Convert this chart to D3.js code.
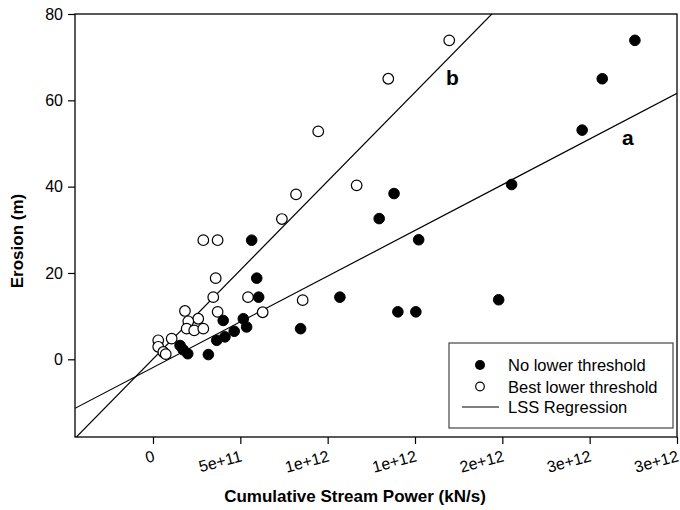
<!DOCTYPE html>
<html>
<head>
<meta charset="utf-8">
<script src="https://cdn.jsdelivr.net/npm/d3@7"></script>
<style>
  body { margin: 0; background: #fff; }
  svg { display: block; font-family: "Liberation Sans", Arial, sans-serif; }
</style>
</head>
<body>
<svg id="chart" width="680" height="510"></svg>
<script>
// ---- data (x in kN/s cumulative stream power, y erosion in m) ----
const noThresholdX = [2.759e12, 2.572e12, 2.457e12, 2.053e12, 1.380e12, 1.295e12, 1.521e12, 1.402e12, 1.505e12, 1.979e12,
                      1.070e12, 0.845e12, 0.565e12, 0.594e12, 0.605e12, 0.402e12, 0.517e12, 0.536e12, 0.465e12, 0.412e12,
                      0.365e12, 0.155e12, 0.173e12, 0.199e12, 0.317e12];
const noThresholdY = [73.9, 65.0, 53.1, 40.5, 38.4, 32.6, 27.7, 11.0, 11.0, 13.8,
                      14.4, 7.1, 27.6, 18.8, 14.4, 9.0, 9.4, 7.5, 6.5, 5.2,
                      4.4, 3.2, 2.2, 1.3, 1.1];
const bestThresholdX = [1.696e12, 1.347e12, 0.946e12, 1.166e12, 0.819e12, 0.738e12, 0.288e12, 0.370e12, 0.359e12, 0.345e12,
                        0.544e12, 0.857e12, 0.370e12, 0.628e12, 0.183e12, 0.259e12, 0.202e12, 0.193e12, 0.236e12, 0.288e12,
                        0.107e12, 0.030e12, 0.030e12, 0.059e12, 0.073e12];
const bestThresholdY = [73.9, 65.0, 52.8, 40.3, 38.2, 32.5, 27.6, 27.6, 18.8, 14.4,
                        14.4, 13.7, 11.0, 10.9, 11.2, 9.4, 8.8, 7.1, 6.7, 7.1,
                        4.8, 4.4, 2.9, 1.7, 1.2];
// regression lines: [intercept, slope]
const regressionNames = ["a", "b"];
const regressionIntercepts = [-1.9, 0.07];
const regressionSlopes = [2.117e-11, 4.12e-11];

const xTickValues = [0, 5e11, 1e12, 1.5e12, 2e12, 2.5e12, 3e12];
const xTickLabels = ["0", "5e+11", "1e+12", "1e+12", "2e+12", "3e+12", "3e+12"];
const yTickValues = [0, 20, 40, 60, 80];
const yTickLabels = ["0", "20", "40", "60", "80"];
const legendLabels = ["No lower threshold", "Best lower threshold", "LSS Regression"];

// ---- layout ----
const svg = d3.select("#chart");
const L = 75, R = 677, T = 14, B = 437;
const xDomain = [-4.465e11, 3e12];
const yDomain = [-18, 80];
const x = d3.scaleLinear().domain(xDomain).range([L, R]);
const y = d3.scaleLinear().domain(yDomain).range([B, T]);

svg.append("defs").append("clipPath").attr("id", "plotclip")
  .append("rect").attr("x", L).attr("y", T).attr("width", R - L).attr("height", B - T);

// axes
const xAxis = d3.axisBottom(x).tickValues(xTickValues)
  .tickFormat((d, i) => xTickLabels[i]).tickSize(7).tickSizeOuter(0);
const gx = svg.append("g").attr("transform", `translate(0,${B})`).call(xAxis);
gx.select(".domain").remove();
gx.selectAll(".tick line").attr("stroke", "#000").attr("stroke-width", 1.2);
gx.selectAll(".tick text")
  .attr("font-size", 16).attr("fill", "#000")
  .attr("text-anchor", "end")
  .attr("dy", null).attr("y", 24).attr("x", 2)
  .attr("transform", "rotate(-15,2,24)");

const yAxis = d3.axisLeft(y).tickValues(yTickValues)
  .tickFormat((d, i) => yTickLabels[i]).tickSize(7).tickSizeOuter(0);
const gy = svg.append("g").attr("transform", `translate(${L},0)`).call(yAxis);
gy.select(".domain").remove();
gy.selectAll(".tick line").attr("stroke", "#000").attr("stroke-width", 1.2);
gy.selectAll(".tick text").attr("font-size", 16).attr("fill", "#000").attr("x", -12);

// frame
svg.append("rect").attr("x", L).attr("y", T).attr("width", R - L).attr("height", B - T)
  .attr("fill", "none").attr("stroke", "#000").attr("stroke-width", 1.3);

// regression lines
const plot = svg.append("g").attr("clip-path", "url(#plotclip)");
regressionNames.forEach((n, i) => {
  const f = xv => regressionIntercepts[i] + regressionSlopes[i] * xv;
  plot.append("line")
    .attr("x1", x(xDomain[0])).attr("y1", y(f(xDomain[0])))
    .attr("x2", x(xDomain[1])).attr("y2", y(f(xDomain[1])))
    .attr("stroke", "#000").attr("stroke-width", 1.2);
});

// points: open first, filled on top
svg.append("g").selectAll("circle").data(bestThresholdX).join("circle")
  .attr("cx", d => x(d)).attr("cy", (d, i) => y(bestThresholdY[i])).attr("r", 5.3)
  .attr("fill", "#fff").attr("stroke", "#000").attr("stroke-width", 1.2);
svg.append("g").selectAll("circle").data(noThresholdX).join("circle")
  .attr("cx", d => x(d)).attr("cy", (d, i) => y(noThresholdY[i])).attr("r", 5.3)
  .attr("fill", "#000").attr("stroke", "#000").attr("stroke-width", 1);

// line labels
svg.append("text").attr("x", 446).attr("y", 85).attr("font-size", 21).attr("font-weight", "bold").text(regressionNames[1]);
svg.append("text").attr("x", 622).attr("y", 145).attr("font-size", 21).attr("font-weight", "bold").text(regressionNames[0]);

// legend
const lg = svg.append("g");
lg.append("rect").attr("x", 449).attr("y", 343).attr("width", 224).attr("height", 85)
  .attr("fill", "#fff").attr("stroke", "#444").attr("stroke-width", 1.2);
lg.append("circle").attr("cx", 480).attr("cy", 365).attr("r", 5).attr("fill", "#000");
lg.append("circle").attr("cx", 480).attr("cy", 386.5).attr("r", 4.3).attr("fill", "#fff").attr("stroke", "#000").attr("stroke-width", 1.2);
lg.append("line").attr("x1", 462).attr("x2", 499).attr("y1", 407).attr("y2", 407).attr("stroke", "#000").attr("stroke-width", 1.2);
[365, 386.5, 406.5].forEach((cy, i) => {
  lg.append("text").attr("x", 508).attr("y", cy + 6).attr("font-size", 16.5).text(legendLabels[i]);
});

// axis titles
svg.append("text").attr("x", 355).attr("y", 502).attr("text-anchor", "middle")
  .attr("font-size", 17).attr("font-weight", "bold").text("Cumulative Stream Power (kN/s)");
svg.append("text").attr("transform", "translate(23,241) rotate(-90)").attr("text-anchor", "middle")
  .attr("font-size", 17).attr("font-weight", "bold").text("Erosion (m)");
</script>
</body>
</html>
